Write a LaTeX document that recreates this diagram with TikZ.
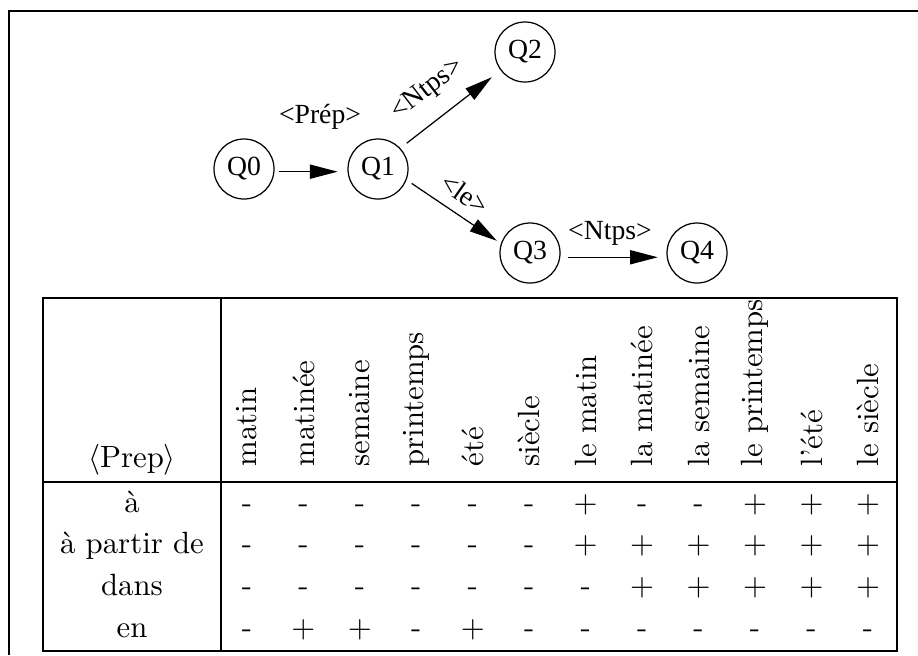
\documentclass[tikz,border=0pt]{standalone}
\usepackage{fontspec}
\newfontfamily\graphfont{Liberation Serif}
\usetikzlibrary{arrows.meta}
\newcommand\symP{$+$}
\newcommand\symM{-}
\begin{document}
\begin{tikzpicture}[x=0.325pt,y=-0.325pt,
  frame/.style={line width=0.65pt},
  state/.style={circle,draw,line width=0.4pt,minimum size=19.5pt,inner sep=0pt,
    font=\graphfont\fontsize{9}{10}\selectfont},
  edge/.style={line width=0.4pt,-{Triangle[length=9pt,width=4.6pt]}},
  elabel/.style={font=\graphfont\fontsize{9}{10}\selectfont,inner sep=0pt},
  colhead/.style={rotate=90,anchor=west,inner sep=0pt,font=\fontsize{10}{12}\selectfont},
  cell/.style={anchor=base,inner sep=0pt,font=\fontsize{10}{12}\selectfont}]
\useasboundingbox (0,0) rectangle (918,655);

% open frame (top and left sides)
\draw[frame] (9,655) -- (9,11) -- (918,11);

% automaton
\node[state] (Q0) at (244,169) {Q0};
\node[state] (Q1) at (378,169) {Q1};
\node[state] (Q2) at (525,52) {Q2};
\node[state] (Q3) at (530,253) {Q3};
\node[state] (Q4) at (697,253) {Q4};

\draw[edge,shorten <=1.3pt,shorten >=3.2pt] (Q0.-5) -- (Q1.185);
\draw[edge,shorten <=2.6pt,shorten >=3.6pt] (Q1.43) -- (Q2.-143);
\draw[edge,shorten <=2pt,shorten >=1.6pt] (Q1.-21) -- (Q3.162);
\draw[edge,shorten <=2.6pt,shorten >=2.9pt] (Q3.-8) -- (Q4.188);

\node[elabel,anchor=base] (lprep) at (320,123) {<Prép>};
\node[elabel,rotate=37.5] (lntps) at (428,90) {<Ntps>};
\node[elabel,rotate=-35] (lle) at (465,194) {<le>};
\node[elabel,anchor=base] (lntps2) at (610,239) {<Ntps>};

% table
\draw[frame] (43,298) rectangle (897,651);
\draw[frame] (43,482) -- (897,482);
\draw[frame] (221,298) -- (221,651);

\node[cell] (prep) at (132,467) {$\langle$Prep$\rangle$};
\foreach \t [count=\i from 0] in {matin,matinée,semaine,printemps,été,siècle,
    le matin,la matinée,la semaine,le printemps,l'été,le siècle}
  \node[colhead] (h\i) at ({247+56.45*\i},467) {\t};

\foreach \t [count=\r from 0] in {à,à partir de,dans,en}
  \node[cell] (r\r) at (132,{512+41.7*\r}) {\t};

\foreach \row [count=\r from 0] in {
    {M,M,M,M,M,M,P,M,M,P,P,P},
    {M,M,M,M,M,M,P,P,P,P,P,P},
    {M,M,M,M,M,M,M,P,P,P,P,P},
    {M,P,P,M,P,M,M,M,M,M,M,M}}
  \foreach \v [count=\c from 0] in \row
    \node[cell] (d-\r-\c) at ({247+56.45*\c},{512+41.7*\r}) {\csname sym\v\endcsname};
\end{tikzpicture}
\end{document}
